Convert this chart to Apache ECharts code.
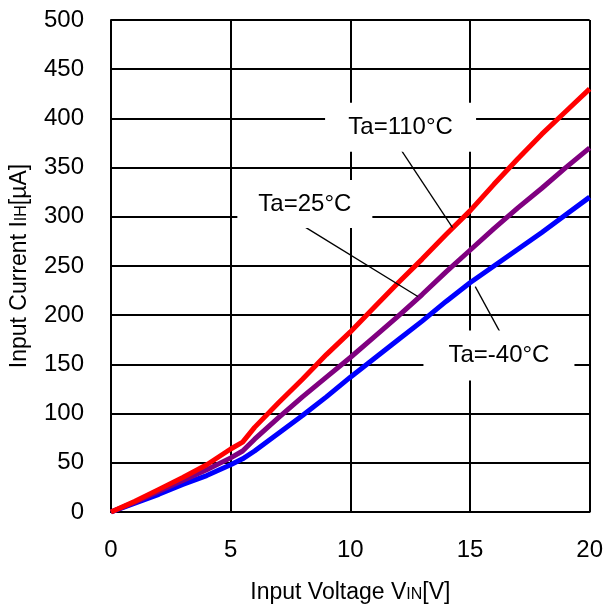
<!DOCTYPE html>
<html>
<head>
<meta charset="utf-8">
<script src="https://cdn.jsdelivr.net/npm/echarts@6/dist/echarts.min.js"></script>
<style>
html,body{margin:0;padding:0;background:#fff;}
#main{width:606px;height:609px;}
</style>
</head>
<body>
<div id="main"></div>
<script>
// Data
var voltage = [0, 1, 2, 3, 4, 5, 5.5, 6, 7, 8, 9, 10, 11, 12, 13, 14, 15, 16, 17, 18, 19, 20];
var current110 = [0, 11, 23, 35, 48, 64, 71, 86, 111, 135, 160, 183, 208, 233, 257, 282, 306, 333, 359, 384, 407, 430];
var current25  = [0, 10, 21, 32, 43, 55, 62, 74, 96, 117, 137, 157, 178, 199, 221, 244, 266, 288, 309, 329, 350, 370];
var currentM40 = [0, 9, 18, 28, 37, 48, 54, 62, 80, 98, 117, 137, 156, 175, 194, 214, 233, 250, 267, 284, 302, 320];
var xTicks = [0, 5, 10, 15, 20];
var yTicks = [0, 50, 100, 150, 200, 250, 300, 350, 400, 450, 500];
var labelNames = ['Ta=110°C', 'Ta=25°C', 'Ta=-40°C'];
var labelAt = [[12.10, 391], [8.10, 313], [16.21, 159]];
var leaderLines = [
  [[12.12, 368], [14.27, 289]],
  [[8.08, 290], [12.82, 219]],
  [[15.22, 229], [16.25, 183]]
];

function pair(xs, ys) { return xs.map(function (x, i) { return [x, ys[i]]; }); }

var FONT = '"Liberation Sans", Arial, sans-serif';
var boxSizes = [[151, 49], [135, 48], [151, 50]];

function makeSeries(name, ys, color, idx) {
  return {
    name: name,
    type: 'line',
    data: pair(voltage, ys),
    showSymbol: false,
    symbol: 'none',
    lineStyle: { color: color, width: 5 },
    itemStyle: { color: color },
    z: 3,
    markLine: {
      silent: true,
      symbol: ['none', 'none'],
      animation: false,
      label: { show: false },
      lineStyle: { color: '#000', width: 1.3, type: 'solid' },
      data: [[{ coord: leaderLines[idx][0] }, { coord: leaderLines[idx][1] }]]
    },
    markPoint: {
      silent: true,
      animation: false,
      symbol: 'rect',
      symbolSize: boxSizes[idx],
      itemStyle: { color: '#fff' },
      label: {
        show: true,
        position: 'inside',
        formatter: labelNames[idx],
        color: '#000',
        fontSize: 24,
        fontFamily: FONT
      },
      data: [{ coord: labelAt[idx] }]
    }
  };
}

var chart = echarts.init(document.getElementById('main'), null, { renderer: 'canvas' });
chart.setOption({
  animation: false,
  backgroundColor: '#fff',
  grid: { left: 109, right: 12, top: 20, bottom: 96, containLabel: false },
  xAxis: {
    type: 'value',
    min: xTicks[0],
    max: xTicks[xTicks.length - 1],
    interval: xTicks[1] - xTicks[0],
    name: 'Input Voltage V{s|IN}[V]',
    nameLocation: 'middle',
    nameGap: 69,
    nameTextStyle: {
      color: '#000', fontSize: 23, fontFamily: FONT,
      rich: { s: { fontSize: 16, color: '#000', fontFamily: FONT, verticalAlign: 'bottom', padding: [0, 0, 1, 0] } }
    },
    axisLine: { show: true, onZero: false, lineStyle: { color: '#000', width: 2 } },
    axisTick: { show: false },
    axisLabel: { color: '#000', fontSize: 24, fontFamily: FONT, margin: 26 },
    splitLine: { show: true, lineStyle: { color: '#000', width: 2 } }
  },
  yAxis: {
    type: 'value',
    min: yTicks[0],
    max: yTicks[yTicks.length - 1],
    interval: yTicks[1] - yTicks[0],
    name: 'Input Current I{s|IH}[µA]',
    nameLocation: 'middle',
    nameGap: 80,
    nameTextStyle: {
      color: '#000', fontSize: 23, fontFamily: FONT,
      rich: { s: { fontSize: 16, color: '#000', fontFamily: FONT, verticalAlign: 'bottom', padding: [0, 0, 1, 0] } }
    },
    axisLine: { show: true, onZero: false, lineStyle: { color: '#000', width: 2 } },
    axisTick: { show: false },
    axisLabel: { color: '#000', fontSize: 24, fontFamily: FONT, margin: 27 },
    splitLine: { show: true, lineStyle: { color: '#000', width: 2 } }
  },
  series: [
    makeSeries('Ta=-40°C', currentM40, '#0000ff', 2),
    makeSeries('Ta=25°C', current25, '#800080', 1),
    makeSeries('Ta=110°C', current110, '#ff0000', 0)
  ]
});
</script>
</body>
</html>
